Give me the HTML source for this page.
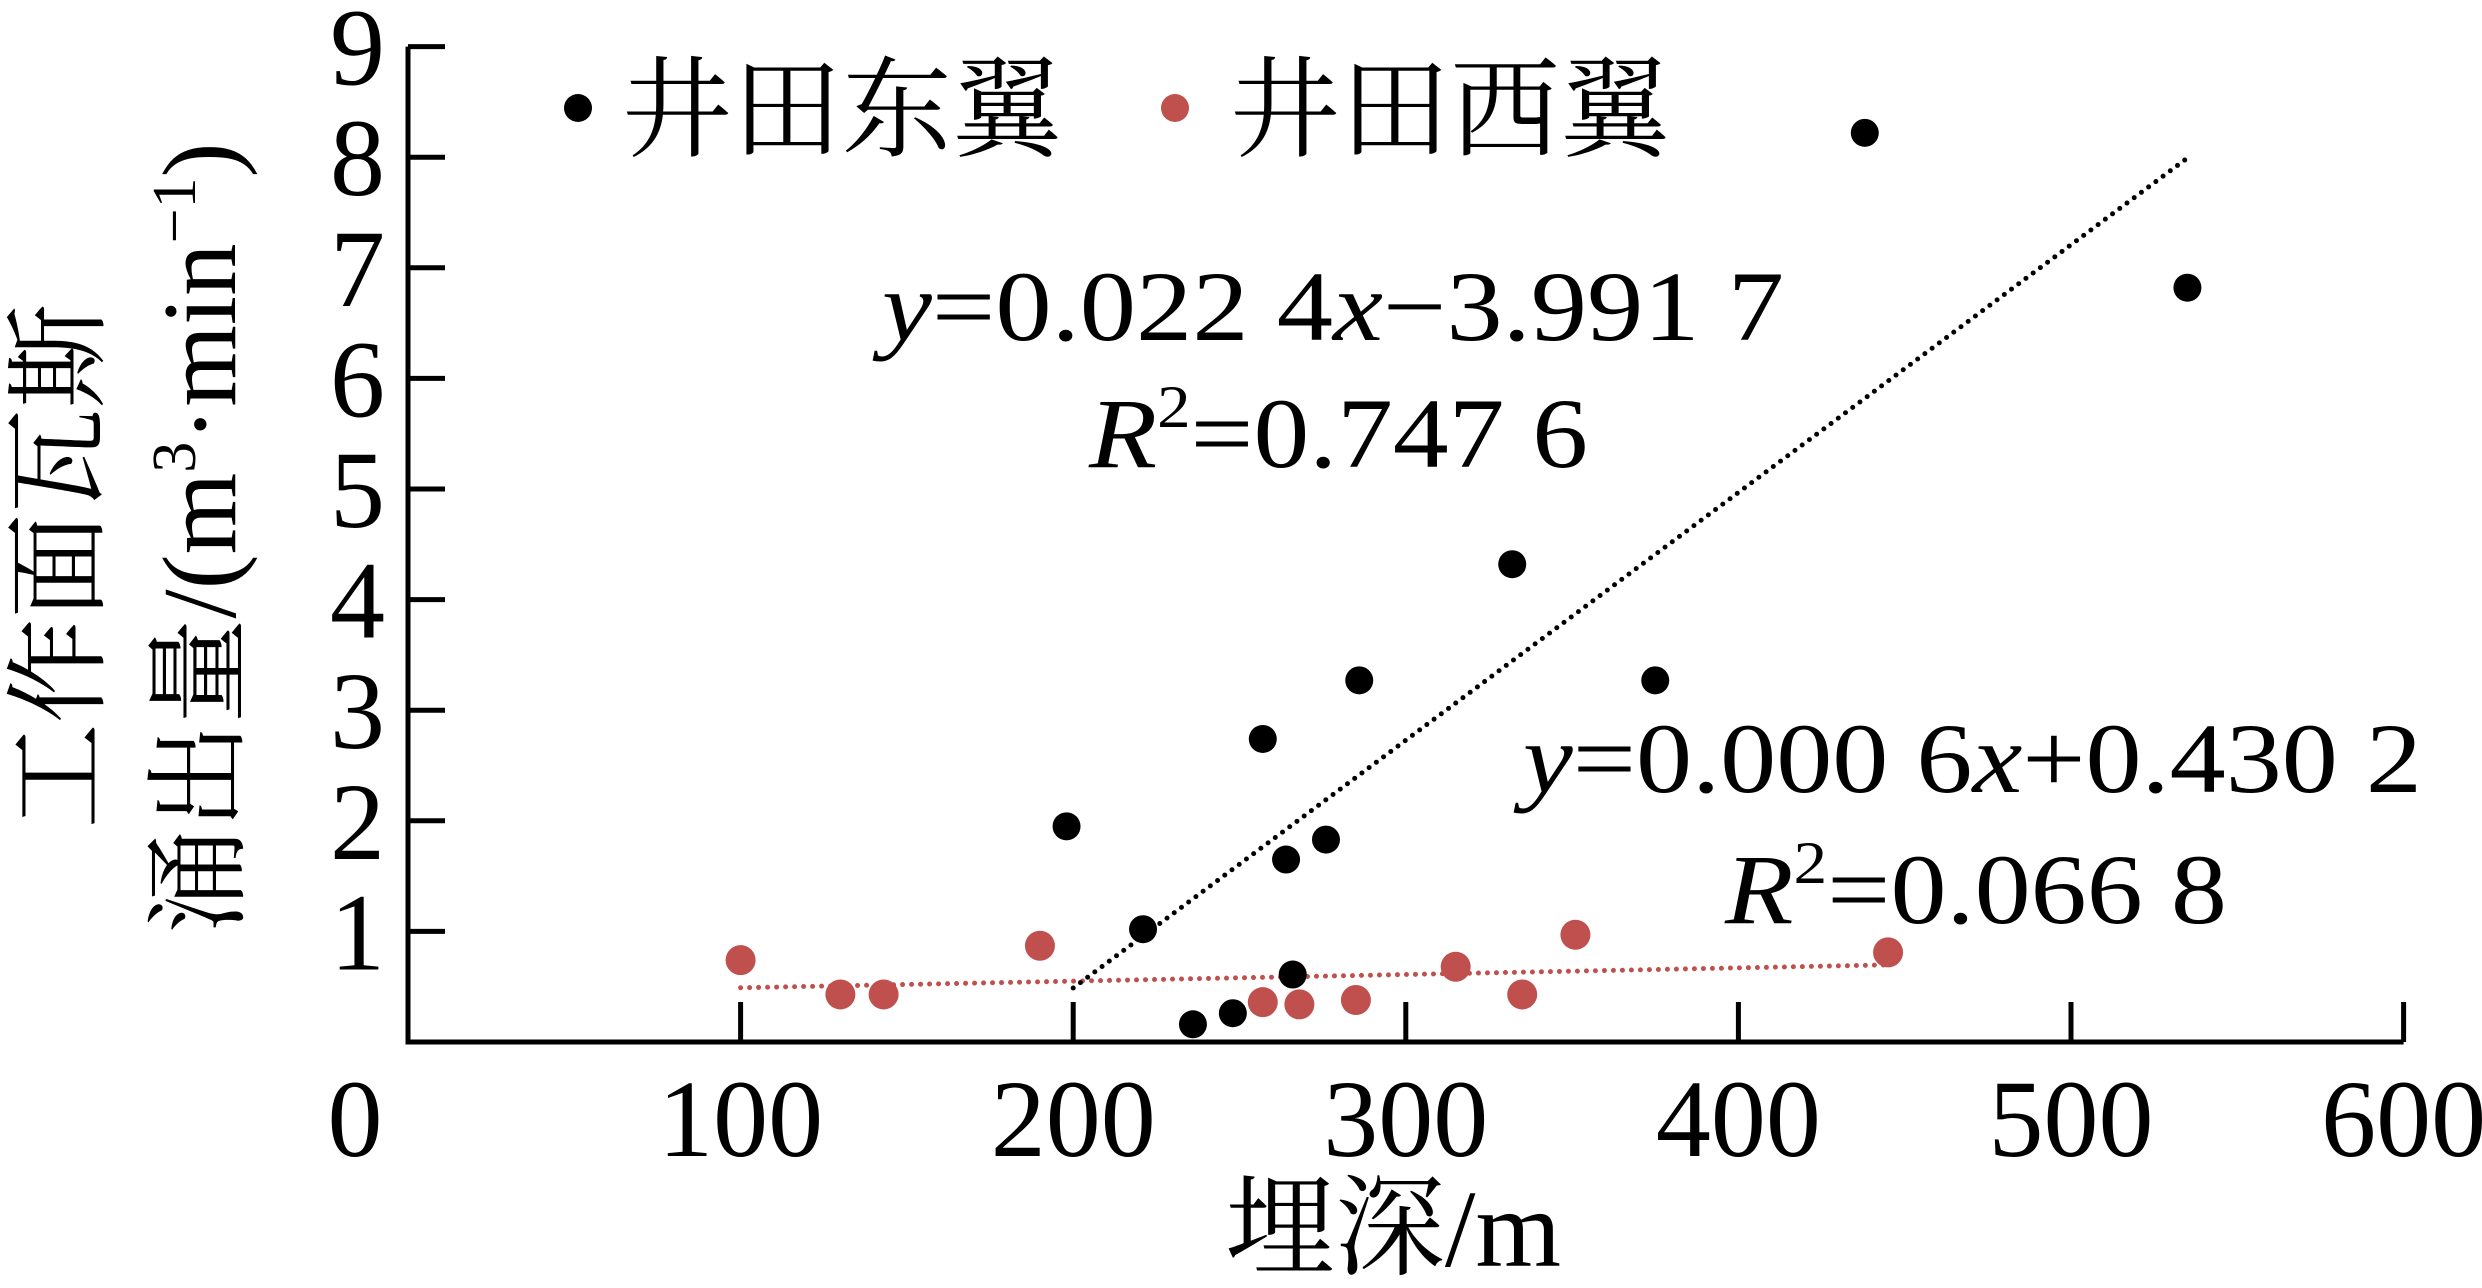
<!DOCTYPE html>
<html><head><meta charset="utf-8"><style>
html,body{margin:0;padding:0;background:#fff;}
svg{display:block;}
text{font-family:"Liberation Serif","Noto Serif CJK SC","Noto Sans CJK SC",serif;fill:#000;}
.lat{font-family:"Liberation Serif","Times New Roman","DejaVu Serif",serif;}
</style></head><body>
<svg id="chart" width="2482" height="1288" viewBox="0 0 2482 1288" xmlns="http://www.w3.org/2000/svg">
<g id="axes"></g>
<g id="lines"></g>
<g id="marks"></g>
<g>
  <circle cx="578" cy="108" r="14" fill="#000"/>
  <text x="622" y="148" font-size="110">井田东翼</text>
  <circle cx="1175" cy="108" r="14" fill="#c0504d"/>
  <text x="1230" y="148" font-size="110">井田西翼</text>
</g>
<g>
  <text class="lat" font-family="Liberation Serif, serif" x="882" y="340" font-size="100" textLength="902" lengthAdjust="spacingAndGlyphs"><tspan font-style="italic">y</tspan>=0.022 4<tspan font-style="italic">x</tspan>−3.991 7</text>
  <text class="lat" font-family="Liberation Serif, serif" x="1089" y="467" font-size="100" textLength="499" lengthAdjust="spacingAndGlyphs"><tspan font-style="italic">R</tspan><tspan font-size="60" dy="-40">2</tspan><tspan dy="40">=0.747 6</tspan></text>
  <text class="lat" font-family="Liberation Serif, serif" x="1523" y="792" font-size="100" textLength="899" lengthAdjust="spacingAndGlyphs"><tspan font-style="italic">y</tspan>=0.000 6<tspan font-style="italic">x</tspan>+0.430 2</text>
  <text class="lat" font-family="Liberation Serif, serif" x="1725" y="923" font-size="100" textLength="502" lengthAdjust="spacingAndGlyphs"><tspan font-style="italic">R</tspan><tspan font-size="60" dy="-40">2</tspan><tspan dy="40">=0.066 8</tspan></text>
</g>
<text x="1393" y="1266" font-size="110" text-anchor="middle">埋深/m</text>
<text transform="translate(95,566) rotate(-90)" font-size="105" text-anchor="middle">工作面瓦斯</text>
<text transform="translate(235,538) rotate(-90)" font-size="105" text-anchor="middle">涌出量/(m<tspan font-size="62" dy="-40">3</tspan><tspan dy="40">·min</tspan><tspan font-size="62" dy="-40">−1</tspan><tspan dy="40">)</tspan></text>
</svg>
<script>
const xTicks=[0,100,200,300,400,500,600];
const yTicks=[1,2,3,4,5,6,7,8,9];
const eastX=[198,221,236,248,257,264,266,276,286,332,375,438,535];
const eastY=[1.95,1.02,0.16,0.26,2.74,1.65,0.61,1.83,3.27,4.32,3.27,8.22,6.82];
const westX=[100,130,143,190,257,268,285,315,335,351,445];
const westY=[0.74,0.43,0.43,0.87,0.36,0.34,0.38,0.68,0.43,0.97,0.81];
const eastFit=[0.0224,-3.9917];
const eastRange=[200,535];
const westFit=[0.0006,0.4302];
const westRange=[100,445];

const NS='http://www.w3.org/2000/svg';
const X0=408,PX=3.326,Y0=1042,PY=110.6;
function sx(v){return X0+v*PX;}
function sy(v){return Y0-v*PY;}
function mk(tag,attrs,parent){const e=document.createElementNS(NS,tag);for(const k in attrs)e.setAttribute(k,attrs[k]);parent.appendChild(e);return e;}
const axes=document.getElementById('axes');
let a=mk('path',{d:`M${sx(0)},${sy(9)} V${Y0} H${sx(600)}`,fill:'none',stroke:'#000','stroke-width':5},axes);


xTicks.forEach(t=>{
  if(t>0){const l=mk('line',{x1:sx(t),x2:sx(t),y1:Y0,y2:Y0-40,stroke:'#000','stroke-width':5},axes);
  
  }
  const tx=mk('text',{x:t===0?355:sx(t),y:1156,'font-size':110,'text-anchor':'middle','class':'lat','font-family':'Liberation Serif, serif'},axes);
  tx.textContent=t;
  
  
});
yTicks.forEach(t=>{
  const l=mk('line',{x1:X0,x2:X0+37,y1:sy(t),y2:sy(t),stroke:'#000','stroke-width':5},axes);
  
  
  const tx=mk('text',{x:385,y:sy(t)+38,'font-size':110,'text-anchor':'end','class':'lat','font-family':'Liberation Serif, serif'},axes);
  tx.textContent=t;
  
  
});
const lines=document.getElementById('lines');
function fit(f,r,color,name){
  const l=mk('line',{x1:sx(r[0]),y1:sy(f[0]*r[0]+f[1]),x2:sx(r[1]),y2:sy(f[0]*r[1]+f[1]),stroke:color,'stroke-width':5,'stroke-dasharray':'0 9','stroke-linecap':'round'},lines);
  
  
}
fit(westFit,westRange,'#c0504d','west-trend-line');
fit(eastFit,eastRange,'#000','east-trend-line');
const marks=document.getElementById('marks');
westX.forEach((x,i)=>{
  const c=mk('circle',{cx:sx(x),cy:sy(westY[i]),r:15,fill:'#c0504d'},marks);
  
  
});
eastX.forEach((x,i)=>{
  const c=mk('circle',{cx:sx(x),cy:sy(eastY[i]),r:14,fill:'#000'},marks);
  
  
});
</script>
</body></html>
